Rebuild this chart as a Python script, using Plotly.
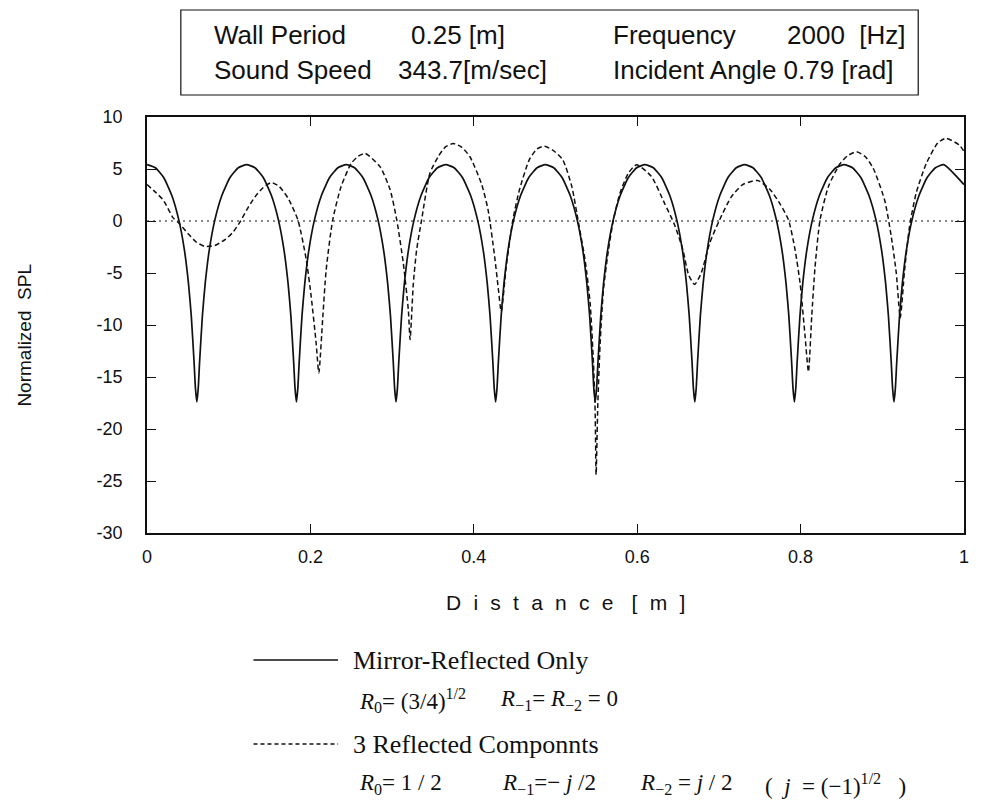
import plotly.graph_objects as go

# ---- data -------------------------------------------------------------
# Mirror-reflected only: distance [m] and normalized SPL [dB]
mirror_d = [
    0.0000, 0.0102, 0.0204, 0.0305, 0.0390, 0.0458, 0.0508, 0.0542, 0.0576, 0.0593,
    0.0610, 0.0627, 0.0644, 0.0678, 0.0712, 0.0762, 0.0830, 0.0915, 0.1016, 0.1118,
    0.1219, 0.1321, 0.1423, 0.1524, 0.1609, 0.1677, 0.1727, 0.1761, 0.1795, 0.1812,
    0.1829, 0.1846, 0.1863, 0.1897, 0.1931, 0.1981, 0.2049, 0.2134, 0.2235, 0.2337,
    0.2438, 0.2540, 0.2642, 0.2743, 0.2828, 0.2896, 0.2946, 0.2980, 0.3014, 0.3031,
    0.3048, 0.3065, 0.3082, 0.3116, 0.3150, 0.3200, 0.3268, 0.3353, 0.3454, 0.3556,
    0.3657, 0.3759, 0.3861, 0.3962, 0.4047, 0.4115, 0.4165, 0.4199, 0.4233, 0.4250,
    0.4267, 0.4284, 0.4301, 0.4335, 0.4369, 0.4419, 0.4487, 0.4572, 0.4673, 0.4775,
    0.4876, 0.4978, 0.5080, 0.5181, 0.5266, 0.5334, 0.5384, 0.5418, 0.5452, 0.5469,
    0.5486, 0.5503, 0.5520, 0.5554, 0.5588, 0.5638, 0.5706, 0.5791, 0.5892, 0.5994,
    0.6095, 0.6197, 0.6299, 0.6400, 0.6485, 0.6553, 0.6603, 0.6637, 0.6671, 0.6688,
    0.6705, 0.6722, 0.6739, 0.6773, 0.6807, 0.6857, 0.6925, 0.7010, 0.7111, 0.7213,
    0.7314, 0.7416, 0.7518, 0.7619, 0.7704, 0.7772, 0.7822, 0.7856, 0.7890, 0.7907,
    0.7924, 0.7941, 0.7958, 0.7992, 0.8026, 0.8076, 0.8144, 0.8229, 0.8330, 0.8432,
    0.8533, 0.8635, 0.8737, 0.8838, 0.8923, 0.8991, 0.9041, 0.9075, 0.9109, 0.9126,
    0.9143, 0.9160, 0.9177, 0.9211, 0.9245, 0.9295, 0.9363, 0.9448, 0.9549, 0.9651,
    0.9752, 1.0000,
]
mirror_spl = [
    5.42, 5.12, 4.18, 2.43, 0.08, -2.80, -6.02, -9.12, -13.54, -16.09,
    -17.40, -16.09, -13.54, -9.12, -6.02, -2.80, 0.08, 2.43, 4.18, 5.12,
    5.42, 5.12, 4.18, 2.43, 0.08, -2.80, -6.02, -9.12, -13.54, -16.09,
    -17.40, -16.09, -13.54, -9.12, -6.02, -2.80, 0.08, 2.43, 4.18, 5.12,
    5.42, 5.12, 4.18, 2.43, 0.08, -2.80, -6.02, -9.12, -13.54, -16.09,
    -17.40, -16.09, -13.54, -9.12, -6.02, -2.80, 0.08, 2.43, 4.18, 5.12,
    5.42, 5.12, 4.18, 2.43, 0.08, -2.80, -6.02, -9.12, -13.54, -16.09,
    -17.40, -16.09, -13.54, -9.12, -6.02, -2.80, 0.08, 2.43, 4.18, 5.12,
    5.42, 5.12, 4.18, 2.43, 0.08, -2.80, -6.02, -9.12, -13.54, -16.09,
    -17.40, -16.09, -13.54, -9.12, -6.02, -2.80, 0.08, 2.43, 4.18, 5.12,
    5.42, 5.12, 4.18, 2.43, 0.08, -2.80, -6.02, -9.12, -13.54, -16.09,
    -17.40, -16.09, -13.54, -9.12, -6.02, -2.80, 0.08, 2.43, 4.18, 5.12,
    5.42, 5.12, 4.18, 2.43, 0.08, -2.80, -6.02, -9.12, -13.54, -16.09,
    -17.40, -16.09, -13.54, -9.12, -6.02, -2.80, 0.08, 2.43, 4.18, 5.12,
    5.42, 5.12, 4.18, 2.43, 0.08, -2.80, -6.02, -9.12, -13.54, -16.09,
    -17.40, -16.09, -13.54, -9.12, -6.02, -2.80, 0.08, 2.43, 4.18, 5.12,
    5.42, 3.50,
]

# Three reflected components: distance [m] and normalized SPL [dB]
three_d = [
    0.000, 0.010, 0.020, 0.032, 0.039, 0.050, 0.060, 0.071, 0.083, 0.0955,
    0.105, 0.1137, 0.123, 0.132, 0.142, 0.1523, 0.162, 0.1726, 0.1847, 0.1949,
    0.201, 0.2071, 0.2103, 0.2152, 0.2193, 0.2273, 0.2375, 0.2497, 0.258, 0.267,
    0.2854, 0.2976, 0.3057, 0.3138, 0.3199, 0.322, 0.326, 0.330, 0.3361, 0.3463,
    0.3565, 0.365, 0.3748, 0.385, 0.3951, 0.4093, 0.4174, 0.4255, 0.430, 0.4336,
    0.4397, 0.4478, 0.4559, 0.468, 0.477, 0.4864, 0.497, 0.5088, 0.520, 0.5282,
    0.5363, 0.5424, 0.5465, 0.5485, 0.5497, 0.5518, 0.5546, 0.5587, 0.5648, 0.5709,
    0.579, 0.5892, 0.5993, 0.6172, 0.6335, 0.6459, 0.656, 0.663, 0.6703, 0.6784,
    0.6886, 0.7008, 0.715, 0.7292, 0.7475, 0.7629, 0.7751, 0.7852, 0.7933, 0.7994,
    0.8055, 0.8096, 0.8136, 0.8177, 0.8238, 0.834, 0.8482, 0.858, 0.8685, 0.879,
    0.8887, 0.9029, 0.911, 0.9171, 0.922, 0.9273, 0.9334, 0.9415, 0.9537, 0.9679,
    0.978, 0.9943, 1.000,
]
three_spl = [
    3.5, 2.8, 2.0, 0.3, -0.2, -1.2, -2.0, -2.45, -2.35, -1.8,
    -1.1, -0.1, 1.2, 2.3, 3.2, 3.7, 3.3, 2.2, 0.1, -3.7,
    -7.3, -11.8, -14.6, -9.2, -4.7, 0.1, 3.3, 5.5, 6.2, 6.5,
    5.2, 3.0, 0.1, -4.1, -8.6, -11.4, -6.0, -2.8, 0.1, 4.6,
    6.2, 7.1, 7.45, 7.1, 6.2, 3.6, 1.1, -3.4, -6.5, -8.7,
    -4.4, 0.1, 3.0, 5.9, 6.9, 7.2, 6.8, 5.9, 3.3, -0.2,
    -3.8, -7.9, -13.7, -18.2, -24.4, -17.6, -11.8, -6.6, -2.8, 0.1,
    2.7, 4.6, 5.4, 4.3, 1.7, -0.4, -2.8, -5.2, -6.1, -5.0,
    -2.15, 0.1, 2.3, 3.5, 3.9, 3.0, 1.6, 0.1, -2.8, -6.0,
    -11.1, -14.5, -9.2, -4.4, 0.1, 3.3, 5.5, 6.3, 6.65, 6.2,
    5.1, 2.0, -1.5, -5.0, -9.3, -4.7, -0.5, 2.7, 5.5, 7.5,
    7.95, 7.3, 6.7,
]

x_ticks = [0, 0.2, 0.4, 0.6, 0.8, 1]
x_tick_text = ["0", "0.2", "0.4", "0.6", "0.8", "1"]
y_ticks = [10, 5, 0, -5, -10, -15, -20, -25, -30]
y_tick_text = ["10", "5", "0", "-5", "-10", "-15", "-20", "-25", "-30"]

# ---- page geometry (pixels) ------------------------------------------
W, H = 981, 801
PL, PR, PT, PB = 147, 968, 117, 533


def px(x):
    return (x - PL) / (PR - PL)


def py(y):
    return (PB - y) / (PB - PT)


INK = "#111111"
SANS = "Liberation Sans, Arial, sans-serif"
SERIF = "Liberation Serif, Times New Roman, serif"
NB = "\u00a0"
GAP = "\u2002\u200a"

fig = go.Figure()

fig.add_trace(go.Scatter(
    x=mirror_d, y=mirror_spl, mode="lines",
    line=dict(color=INK, width=1.7, shape="spline", smoothing=0.5),
    showlegend=False, hoverinfo="skip",
))
fig.add_trace(go.Scatter(
    x=three_d, y=three_spl, mode="lines",
    line=dict(color=INK, width=1.5, dash="5px,3px", shape="spline", smoothing=0.6),
    showlegend=False, hoverinfo="skip",
))

shapes = [
    # dotted zero reference
    dict(type="line", xref="x", yref="y", x0=0, x1=1, y0=0, y1=0,
         line=dict(color=INK, width=1.2, dash="2px,4px")),
    # parameter box
    dict(type="rect", xref="paper", yref="paper",
         x0=px(181), x1=px(922), y0=py(95), y1=py(10),
         line=dict(color=INK, width=1.2)),
    # legend line samples
    dict(type="line", xref="paper", yref="paper",
         x0=px(254), x1=px(339), y0=py(660), y1=py(660),
         line=dict(color=INK, width=1.7)),
    dict(type="line", xref="paper", yref="paper",
         x0=px(254), x1=px(339), y0=py(744), y1=py(744),
         line=dict(color=INK, width=1.5, dash="4px,3px")),
]

annotations = []


def label(text, x, y, font, size, anchor="left", angle=0):
    annotations.append(dict(
        text=text, xref="paper", yref="paper", x=px(x), y=py(y),
        xanchor=anchor, yanchor="middle", showarrow=False, textangle=angle,
        font=dict(family=font, size=size, color=INK),
    ))


# parameter box text
BOX_FS = 26
label("Wall Period", 212, 35, SANS, BOX_FS)
label("0.25 [m]", 410, 35, SANS, BOX_FS)
label("Frequency", 613, 35, SANS, BOX_FS)
label("2000" + NB * 2 + "[Hz]", 912, 35, SANS, BOX_FS, anchor="right")
label("Sound Speed", 212, 70, SANS, BOX_FS)
label("343.7[m/sec]", 397, 70, SANS, BOX_FS)
label("Incident Angle 0.79 [rad]", 613, 70, SANS, BOX_FS)

# axis titles
label(GAP.join("Distance") + GAP + NB + "[" + GAP + "m" + GAP + "]", 568, 602, SANS, 21,
      anchor="center")
label("Normalized" + NB * 2 + "SPL", 23, 335, SANS, 19, anchor="center", angle=-90)

# legend text
LEG_FS = 26
MATH_FS = 23
label("Mirror-Reflected Only", 352, 660, SERIF, LEG_FS)
label("<i>R</i><sub>0</sub>= (3/4)<sup>1/2</sup>", 358, 700, SERIF, MATH_FS)
label("<i>R</i><sub>−1</sub>=" + NB + "<i>R</i><sub>−2</sub>" + NB + "=" + NB + "0",
      500, 700, SERIF, MATH_FS)
label("3 Reflected Componnts", 352, 744, SERIF, LEG_FS)
label("<i>R</i><sub>0</sub>=" + NB + "1" + NB + "/" + NB + "2", 358, 784, SERIF, MATH_FS)
label("<i>R</i><sub>−1</sub>=−" + NB + "<i>j</i>" + NB + "/2", 502, 784, SERIF, MATH_FS)
label("<i>R</i><sub>−2</sub>" + NB + "=" + NB + "<i>j</i>" + NB + "/" + NB + "2",
      640, 784, SERIF, MATH_FS)
label("(" + NB * 2 + "<i>j</i>" + NB * 2 + "=" + NB + "(−1)<sup>1/2</sup>" + NB * 3 + ")",
      766, 784, SERIF, MATH_FS)

fig.update_layout(
    width=W, height=H,
    margin=dict(l=PL, r=W - PR, t=PT, b=H - PB),
    paper_bgcolor="white", plot_bgcolor="white",
    shapes=shapes, annotations=annotations,
    xaxis=dict(
        range=[0, 1], tickvals=x_ticks, ticktext=x_tick_text,
        ticks="inside", ticklen=9, tickwidth=1.4, tickcolor=INK,
        showline=True, linecolor=INK, linewidth=1.8, mirror="ticks",
        showgrid=False, zeroline=False,
        tickfont=dict(family=SANS, size=18, color=INK),
        ticklabelstandoff=6,
    ),
    yaxis=dict(
        range=[-30, 10], tickvals=y_ticks, ticktext=y_tick_text,
        ticks="inside", ticklen=9, tickwidth=1.4, tickcolor=INK,
        showline=True, linecolor=INK, linewidth=1.8, mirror="ticks",
        showgrid=False, zeroline=False,
        tickfont=dict(family=SANS, size=18, color=INK),
        ticklabelstandoff=19,
    ),
)

fig.write_html("out.html")
